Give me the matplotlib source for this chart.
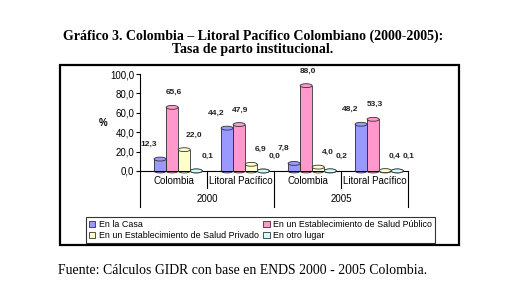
import numpy as np
import matplotlib.pyplot as plt
import matplotlib.patches as patches

# data
years = ['2000', '2005']
regions = ['Colombia', 'Litoral Pacífico']
series_names = ['En la Casa',
                'En un Establecimiento de Salud Público',
                'En un Establecimiento de Salud Privado',
                'En otro lugar']
en_casa = [12.3, 44.2, 7.8, 48.2]
publico = [65.6, 47.9, 88.0, 53.3]
privado = [22.0, 6.9, 4.0, 0.4]
otro = [0.1, 0.0, 0.2, 0.1]
yticks = [0, 20, 40, 60, 80, 100]

colors = ['#9999FF', '#FF99CC', '#FFFFCC', '#CCFFFF']
label_dx = [-8, 1, 7, 8]  # label offsets in points (mimic excel 3d placement)

W, H = 508, 288
fig = plt.figure(figsize=(W / 100, H / 100), dpi=100)
plt.rcParams['font.family'] = ['Liberation Sans', 'DejaVu Sans']

def fx(px):
    return px / W

def fy(py):
    return 1 - py / H

# title and source
fig.text(fx(253), fy(36), 'Gráfico 3. Colombia – Litoral Pacífico Colombiano (2000-2005):',
         ha='center', va='center', fontsize=10, fontweight='bold', family='Liberation Serif')
fig.text(fx(253), fy(50), 'Tasa de parto institucional.',
         ha='center', va='center', fontsize=10, fontweight='bold', family='Liberation Serif')
fig.text(fx(58), fy(271), 'Fuente: Cálculos GIDR con base en ENDS 2000 - 2005 Colombia.',
         ha='left', va='center', fontsize=9.9, family='Liberation Serif')

# outer frame
fig.add_artist(patches.Rectangle((fx(60), fy(245)), fx(399), 180 / H, transform=fig.transFigure,
                                 fill=False, edgecolor='black', linewidth=1.6))

ax = fig.add_axes([fx(140), fy(171), fx(268), 97 / H])
ax.set_xlim(0, 4)
ax.set_ylim(0, 100)

values = [en_casa, publico, privado, otro]
bw = 0.18
start = 0.21
eh = 4.0  # ellipse height in data units
for s, vals in enumerate(values):
    for g, v in enumerate(vals):
        x0 = g + start + s * bw
        xc = x0 + bw / 2
        ax.add_patch(patches.Ellipse((xc, 0), bw, eh, facecolor=colors[s],
                                     edgecolor='#333333', linewidth=0.6, clip_on=False, zorder=2))
        if v > 0.5:
            ax.add_patch(patches.Rectangle((x0, 0), bw, v, facecolor=colors[s],
                                           edgecolor='none', clip_on=False, zorder=3))
            ax.plot([x0, x0], [0, v], color='#333333', lw=0.6, zorder=4, clip_on=False)
            ax.plot([x0 + bw, x0 + bw], [0, v], color='#333333', lw=0.6, zorder=4, clip_on=False)
        ax.add_patch(patches.Ellipse((xc, v), bw, eh, facecolor=colors[s],
                                     edgecolor='#333333', linewidth=0.6, clip_on=False, zorder=5))
        ax.annotate(f'{v:.1f}'.replace('.', ','), (xc, v), xytext=(label_dx[s], 8),
                    textcoords='offset points', ha='center', va='bottom',
                    fontsize=6, fontweight='bold', color='#222222')

# axes styling
for side in ['top', 'right']:
    ax.spines[side].set_visible(False)
ax.spines['left'].set_linewidth(0.8)
ax.spines['bottom'].set_linewidth(0.8)
ax.set_yticks(yticks)
ax.set_yticklabels([f'{t:.1f}'.replace('.', ',') for t in yticks], fontsize=7)
ax.tick_params(axis='y', length=3, width=0.8, pad=1)
ax.set_xticks([])
ax.text(-37 / 268, 50, '%', transform=ax.get_yaxis_transform(), ha='center', va='center',
        fontsize=7, fontweight='bold', clip_on=False)

# multi-level category axis
trans = ax.get_xaxis_transform()
px = 1 / 97  # one pixel in axes fraction (vertical)
for i in range(5):
    depth = 36 if i % 2 == 0 else 17
    ax.plot([i, i], [0, -depth * px], color='black', lw=0.8, transform=trans, clip_on=False)
for i in range(4):
    ax.text(i + 0.5, -10 * px, regions[i % 2], transform=trans, ha='center', va='center', fontsize=7)
for j, yr in enumerate(years):
    ax.text(2 * j + 1, -28 * px, yr, transform=trans, ha='center', va='center', fontsize=7)

# legend, filled row by row like the original
order = [0, 2, 1, 3]
handles = [patches.Patch(facecolor=colors[k], edgecolor='#333333', linewidth=0.6) for k in order]
leg = fig.legend(handles, [series_names[k] for k in order], ncol=2, loc='upper left',
                 bbox_to_anchor=(fx(86), fy(217)),
                 fontsize=6.4, handlelength=0.7, handleheight=0.7, handletextpad=0.4,
                 borderpad=0.35, labelspacing=0.2, columnspacing=0.5, fancybox=False,
                 borderaxespad=0)
leg.get_frame().set_edgecolor('black')
leg.get_frame().set_linewidth(0.8)

fig.savefig('out.png', dpi=100)
